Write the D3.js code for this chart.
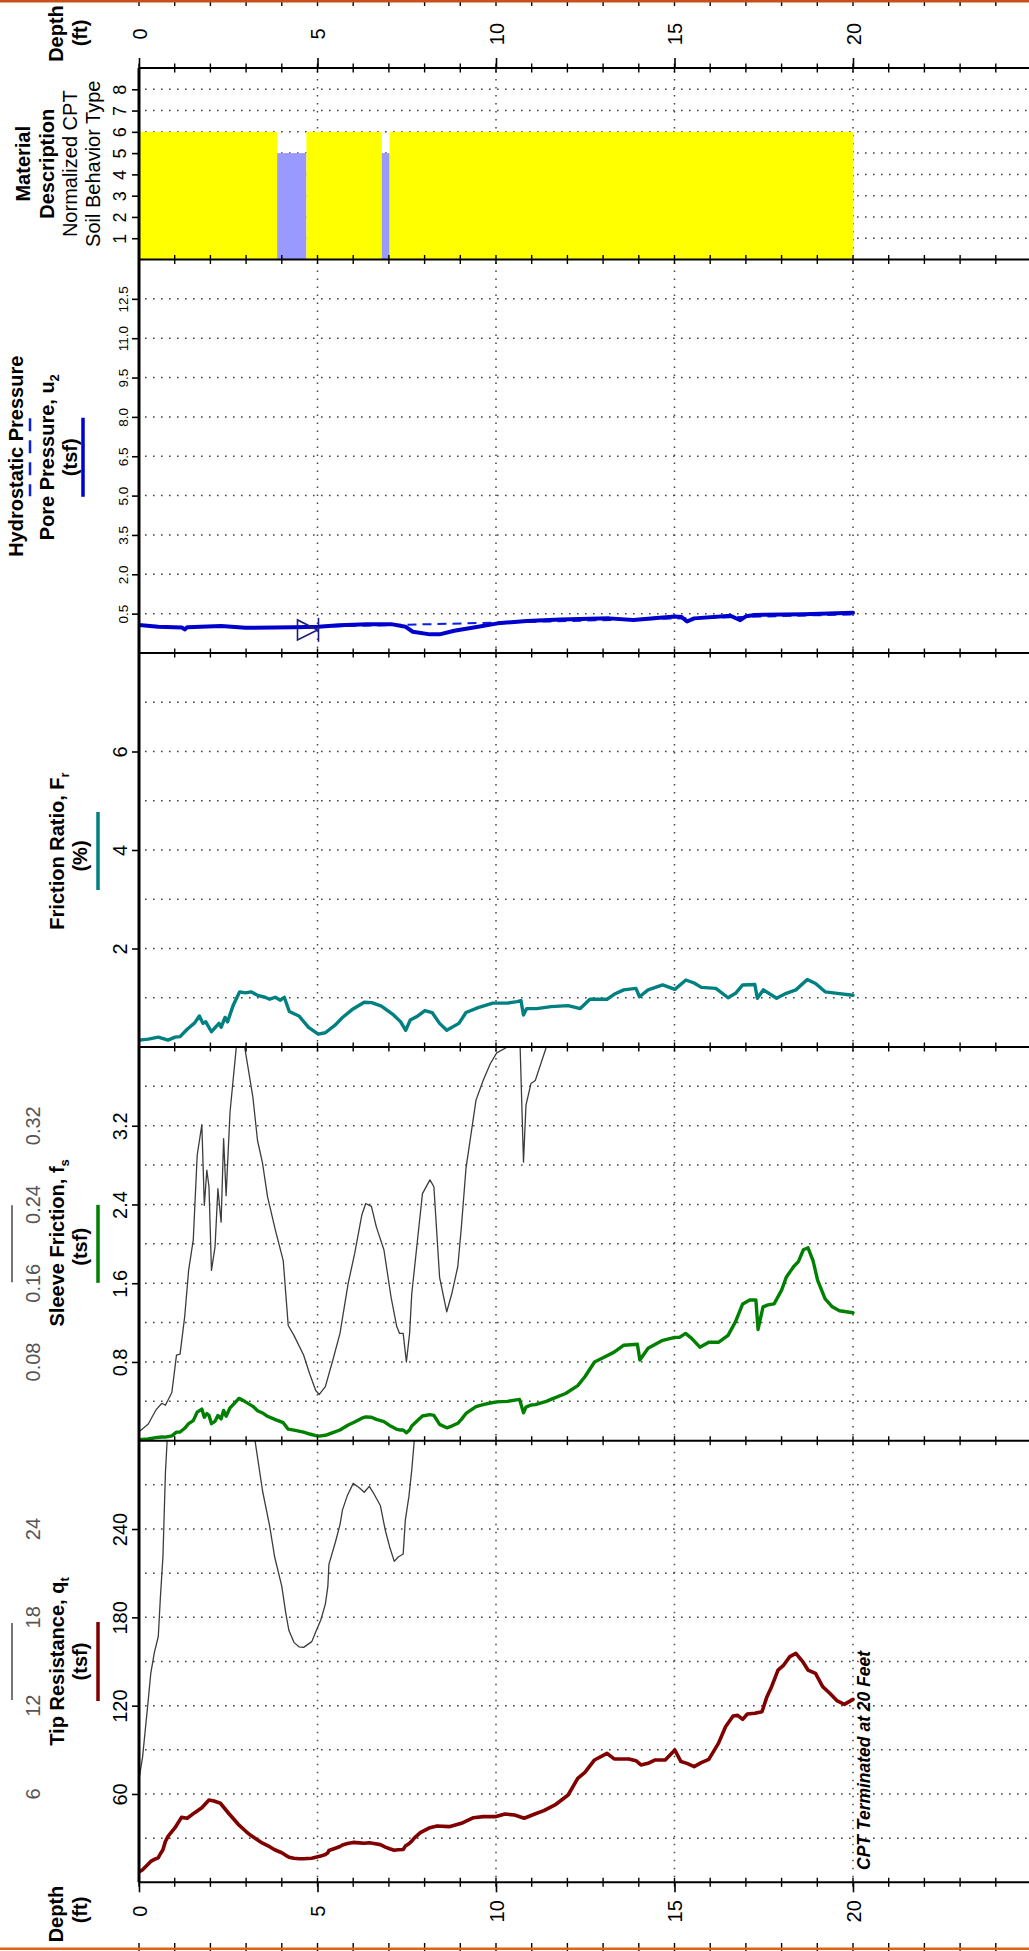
<!DOCTYPE html>
<html>
<head>
<meta charset="utf-8">
<script src="https://cdn.jsdelivr.net/npm/d3@7"></script>
<style>
  body { margin: 0; background: #fff; }
  svg { display: block; }
  text { font-family: Arial, "Liberation Sans", Helvetica, sans-serif; }
</style>
</head>
<body>
<div id="chart"></div>
<script>
// ---------------- CPT sounding data (depth in ft) ----------------
const depthLabels = [0, 5, 10, 15, 20];
const depthGrid = [5, 10, 15, 20, 25];

// Normalized soil behaviour type layers
const sbtLayers = [
  { from: 0.00, to: 3.87, zone: 6 },
  { from: 3.87, to: 4.69, zone: 5 },
  { from: 4.69, to: 6.80, zone: 6 },
  { from: 6.80, to: 7.02, zone: 5 },
  { from: 7.02, to: 20.0, zone: 6 }
];
const sbtColors = { 5: "#9999ff", 6: "#ffff00" };
const sbtTicks = [1, 2, 3, 4, 5, 6, 7, 8];

// Pore pressure u2 (tsf) and hydrostatic line
const porePressure = [
  [0, 0.07], [0.54, 0.0], [1.2, -0.03], [1.28, -0.1], [1.35, -0.02], [2.3, 0.03],
  [2.98, -0.04], [4.34, -0.02], [5.02, 0.0], [5.6, 0.06], [6.38, 0.1], [7.06, 0.1],
  [7.47, 0.0], [7.67, -0.19], [8.15, -0.29], [8.42, -0.29], [8.83, -0.15], [9.5, 0.0],
  [10.05, 0.13], [10.86, 0.22], [11.81, 0.28], [13.17, 0.32], [13.85, 0.26], [14.5, 0.33],
  [15.01, 0.39], [15.2, 0.37], [15.35, 0.2], [15.55, 0.32], [16.57, 0.42], [16.84, 0.25],
  [17.0, 0.4], [17.25, 0.45], [18.61, 0.48], [20.0, 0.53]
];
const hydrostatic = [[5.0, 0.0], [20.0, 0.47]];
const waterTableDepth = 5.0;
const poreTicks = [0.5, 2.0, 3.5, 5.0, 6.5, 8.0, 9.5, 11.0, 12.5];

// Friction ratio Fr (%)
const frictionRatio = [
  [0, 0.14], [0.26, 0.16], [0.54, 0.2], [0.81, 0.14], [1.01, 0.2], [1.15, 0.21],
  [1.35, 0.36], [1.56, 0.49], [1.69, 0.63], [1.79, 0.48], [1.87, 0.51], [2.03, 0.31],
  [2.24, 0.48], [2.3, 0.4], [2.41, 0.6], [2.48, 0.51], [2.64, 0.85], [2.82, 1.12],
  [2.98, 1.1], [3.14, 1.12], [3.32, 1.05], [3.53, 1.01], [3.66, 0.97], [3.82, 1.01],
  [3.96, 0.95], [4.07, 1.01], [4.21, 0.72], [4.48, 0.63], [4.75, 0.4], [5.02, 0.26],
  [5.22, 0.29], [5.5, 0.45], [5.7, 0.6], [5.97, 0.76], [6.31, 0.91], [6.52, 0.9],
  [6.79, 0.83], [7.13, 0.65], [7.33, 0.51], [7.47, 0.34], [7.6, 0.55], [7.81, 0.63],
  [8.01, 0.74], [8.21, 0.7], [8.42, 0.48], [8.62, 0.34], [8.96, 0.48], [9.16, 0.7],
  [9.5, 0.8], [9.91, 0.89], [10.32, 0.89], [10.59, 0.92], [10.7, 0.94], [10.77, 0.65],
  [10.86, 0.78], [11.14, 0.78], [11.54, 0.82], [12.02, 0.84], [12.36, 0.78], [12.63, 0.97],
  [13.11, 0.97], [13.31, 1.07], [13.58, 1.16], [13.92, 1.19], [14.02, 1.02], [14.26, 1.16],
  [14.67, 1.26], [15.01, 1.17], [15.32, 1.36], [15.55, 1.3], [15.75, 1.21], [16.16, 1.19],
  [16.5, 1.0], [16.71, 1.09], [16.91, 1.26], [17.25, 1.27], [17.32, 0.99], [17.49, 1.16],
  [17.86, 0.99], [18.13, 1.09], [18.4, 1.16], [18.72, 1.37], [18.95, 1.29], [19.22, 1.12],
  [19.56, 1.09], [20.0, 1.05]
];
const frTicks = [2, 4, 6];
const frGrid = [1, 2, 3, 4, 5, 6, 7];

// Sleeve friction fs (tsf)
const sleeveFriction = [
  [0, 0.009], [0.26, 0.017], [0.47, 0.031], [0.64, 0.038], [0.74, 0.036], [0.92, 0.049],
  [1.05, 0.087], [1.15, 0.088], [1.28, 0.126], [1.39, 0.173], [1.52, 0.204], [1.63, 0.29],
  [1.76, 0.321], [1.83, 0.239], [1.9, 0.275], [1.96, 0.258], [2.03, 0.173], [2.13, 0.197],
  [2.21, 0.256], [2.3, 0.222], [2.37, 0.307], [2.44, 0.249], [2.55, 0.334], [2.71, 0.394],
  [2.8, 0.43], [2.96, 0.40], [3.19, 0.349], [3.32, 0.305], [3.46, 0.282], [3.6, 0.248],
  [3.82, 0.214], [4.04, 0.183], [4.18, 0.117], [4.34, 0.107], [4.61, 0.087], [4.78, 0.068],
  [4.95, 0.051], [5.05, 0.047], [5.22, 0.055], [5.43, 0.082], [5.63, 0.109], [5.86, 0.16],
  [6.04, 0.19], [6.24, 0.229], [6.35, 0.241], [6.51, 0.238], [6.65, 0.217], [6.86, 0.194],
  [7.06, 0.146], [7.22, 0.116], [7.3, 0.109], [7.4, 0.109], [7.49, 0.08], [7.58, 0.109],
  [7.64, 0.149], [7.81, 0.207], [7.94, 0.251], [8.15, 0.265], [8.26, 0.258], [8.42, 0.166],
  [8.62, 0.131], [8.76, 0.149], [8.93, 0.177], [9.03, 0.217], [9.16, 0.277], [9.44, 0.346],
  [9.64, 0.366], [9.84, 0.383], [10.02, 0.394], [10.32, 0.40], [10.66, 0.42], [10.77, 0.283],
  [10.84, 0.341], [10.98, 0.363], [11.1, 0.366], [11.41, 0.40], [11.54, 0.42], [11.95, 0.48],
  [12.29, 0.56], [12.49, 0.65], [12.76, 0.80], [13.04, 0.85], [13.31, 0.90], [13.58, 0.97],
  [13.96, 0.98], [14.03, 0.82], [14.26, 0.94], [14.67, 1.02], [15.01, 1.05], [15.14, 1.05],
  [15.31, 1.09], [15.48, 1.04], [15.71, 0.95], [15.96, 1.0], [16.23, 1.0], [16.5, 1.07],
  [16.71, 1.21], [16.91, 1.39], [17.11, 1.43], [17.28, 1.43], [17.34, 1.13], [17.48, 1.36],
  [17.62, 1.38], [17.79, 1.39], [18.0, 1.53], [18.13, 1.66], [18.34, 1.77], [18.47, 1.82],
  [18.61, 1.94], [18.74, 1.96], [18.88, 1.83], [19.01, 1.63], [19.22, 1.44], [19.42, 1.36],
  [19.62, 1.32], [20.0, 1.30]
];
const fsTicks = [0.8, 1.6, 2.4, 3.2];
const fsGrid = [0.4, 0.8, 1.2, 1.6, 2.0, 2.4, 2.8, 3.2, 3.6];
const fsZoomTicks = [0.08, 0.16, 0.24, 0.32];

// Tip resistance qt (tsf)
const tipResistance = [
  [0, 7.0], [0.1, 8.5], [0.26, 12.4], [0.33, 14.2], [0.43, 15.6], [0.54, 16.7], [0.6, 19.4],
  [0.67, 22.1], [0.74, 27.8], [0.81, 31.0], [0.88, 33.3], [1.01, 37.1], [1.19, 44.1],
  [1.35, 43.5], [1.56, 47.3], [1.76, 50.7], [1.96, 55.9], [2.1, 55.2], [2.28, 53.7],
  [2.51, 46.9], [2.78, 39.4], [3.0, 34.5], [3.12, 32.1], [3.25, 30.0], [3.46, 26.6],
  [3.66, 24.2], [3.8, 22.1], [4.0, 20.1], [4.11, 18.3], [4.2, 17.1], [4.34, 16.3],
  [4.48, 16.0], [4.61, 15.96], [4.84, 16.35], [4.95, 17.0], [5.09, 17.8], [5.22, 18.9],
  [5.29, 20.1], [5.32, 21.6], [5.5, 23.1], [5.63, 24.3], [5.7, 25.3], [5.84, 26.3],
  [6.0, 27.1], [6.17, 26.8], [6.31, 26.5], [6.45, 26.9], [6.58, 26.4], [6.76, 25.6],
  [6.9, 23.9], [7.02, 22.8], [7.15, 21.8], [7.26, 22.1], [7.4, 22.3], [7.46, 24.6],
  [7.56, 26.2], [7.64, 28.0], [7.71, 30.0], [7.88, 33.7], [8.15, 37.1], [8.35, 38.3],
  [8.69, 37.8], [9.03, 40.1], [9.37, 43.9], [9.64, 44.6], [9.98, 44.6], [10.25, 46.4],
  [10.52, 45.7], [10.79, 43.5], [11.07, 46.2], [11.34, 48.7], [11.68, 53.0], [12.02, 59.3],
  [12.29, 70.6], [12.49, 74.7], [12.76, 83.1], [13.11, 87.6], [13.31, 83.8], [13.72, 83.8],
  [13.92, 82.6], [14.06, 79.7], [14.26, 80.8], [14.46, 83.1], [14.74, 83.1], [15.01, 89.9],
  [15.18, 82.0], [15.35, 80.8], [15.55, 78.6], [15.75, 81.3], [15.96, 83.5], [16.23, 94.4],
  [16.43, 105.7], [16.64, 113.0], [16.77, 113.4], [16.91, 110.7], [17.04, 114.3],
  [17.25, 114.8], [17.45, 115.9], [17.59, 126.1], [17.72, 132.9], [17.9, 144.2],
  [18.06, 147.6], [18.23, 153.3], [18.4, 155.5], [18.58, 150.3], [18.74, 144.2],
  [18.95, 141.9], [19.15, 132.9], [19.35, 128.4], [19.56, 123.2], [19.76, 120.9], [20.0, 124.3]
];
const qtTicks = [60, 120, 180, 240];
const qtGrid = [30, 60, 90, 120, 150, 180, 210, 240, 270];
const qtZoomTicks = [6, 12, 18, 24];

// ---------------- layout ----------------
const W = 1029, H = 1951;
const LEFT = 139;
const P = {
  sbt: { top: 68, bottom: 259.5 },
  u2:  { top: 259.5, bottom: 653 },
  fr:  { top: 653, bottom: 1047 },
  fs:  { top: 1047, bottom: 1440.7 },
  qt:  { top: 1440.7, bottom: 1882.3 }
};

const x = d3.scaleLinear().domain([0, 25]).range([LEFT, LEFT + 25 * 35.7]);
const ySbt = d3.scaleLinear().domain([0, 9]).range([P.sbt.bottom, P.sbt.top]);
const yU2 = d3.scaleLinear().domain([-1, 14]).range([P.u2.bottom, P.u2.top]);
const yFr = d3.scaleLinear().domain([0, 8]).range([P.fr.bottom, P.fr.top]);
const yFs = d3.scaleLinear().domain([0, 4]).range([P.fs.bottom, P.fs.top]);
const yFsZoom = d3.scaleLinear().domain([0, 0.4]).range([P.fs.bottom, P.fs.top]);
const yQt = d3.scaleLinear().domain([0, 300]).range([P.qt.bottom, P.qt.top]);
const yQtZoom = d3.scaleLinear().domain([0, 30]).range([P.qt.bottom, P.qt.top]);

const svg = d3.select("#chart").append("svg")
  .attr("width", W).attr("height", H)
  .attr("viewBox", `0 0 ${W} ${H}`);

const defs = svg.append("defs");
Object.entries(P).forEach(([k, p]) => {
  defs.append("clipPath").attr("id", "clip-" + k)
    .append("rect").attr("x", LEFT).attr("y", p.top)
    .attr("width", W - LEFT).attr("height", p.bottom - p.top);
});

// vertical text helper (reads bottom to top)
function vtext(parent, cx, cy, str, opt = {}) {
  const t = parent.append("text")
    .attr("transform", `translate(${cx},${cy}) rotate(-90)`)
    .attr("text-anchor", opt.anchor || "middle")
    .attr("dy", "0.35em")
    .attr("font-size", opt.size || 20)
    .attr("font-weight", opt.weight || "normal")
    .attr("font-style", opt.style || "normal")
    .attr("fill", opt.fill || "#000");
  if (opt.sub) {
    t.append("tspan").text(str);
    t.append("tspan").attr("dy", 5).attr("font-size", 13).text(opt.sub);
  } else {
    t.text(str);
  }
  return t;
}

// ---------------- grid ----------------
const grid = svg.append("g").attr("stroke", "#444").attr("stroke-width", 1.5)
  .attr("stroke-dasharray", "1.6,6.4").attr("fill", "none");

function hGrid(values, y) {
  grid.selectAll(null).data(values).join("line")
    .attr("x1", 145).attr("x2", W)
    .attr("y1", d => y(d)).attr("y2", d => y(d));
}
hGrid(sbtTicks, ySbt);
hGrid(poreTicks, yU2);
hGrid(frGrid, yFr);
hGrid(fsGrid, yFs);
hGrid(qtGrid, yQt);

Object.values(P).forEach(p => {
  grid.selectAll(null).data(depthGrid).join("line")
    .attr("x1", d => x(d)).attr("x2", d => x(d))
    .attr("y1", p.top + 3).attr("y2", p.bottom);
});

// ---------------- soil behaviour type ----------------
svg.append("g").selectAll("rect").data(sbtLayers).join("rect")
  .attr("x", d => x(d.from))
  .attr("width", d => x(d.to) - x(d.from))
  .attr("y", d => ySbt(d.zone))
  .attr("height", d => ySbt(0) - ySbt(d.zone))
  .attr("fill", d => sbtColors[d.zone]);

// ---------------- curves ----------------
function curve(data, y, color, width, clip, dash) {
  const line = d3.line().x(d => x(d[0])).y(d => y(d[1]));
  const path = svg.append("path").datum(data)
    .attr("d", line)
    .attr("fill", "none")
    .attr("stroke", color)
    .attr("stroke-width", width)
    .attr("stroke-linejoin", "round")
    .attr("stroke-linecap", "round");
  if (clip) path.attr("clip-path", `url(#clip-${clip})`);
  if (dash) path.attr("stroke-dasharray", dash).attr("stroke-linecap", "butt");
  return path;
}

// magnified traces (x10) in grey
curve(sleeveFriction, yFsZoom, "#3c3c3c", 1.3, "fs");
curve(tipResistance, yQtZoom, "#3c3c3c", 1.3, "qt");

curve(hydrostatic, yU2, "#0a1ee6", 2, "u2", "9,6");
curve(porePressure, yU2, "#0000cd", 4, "u2");
curve(frictionRatio, yFr, "#008080", 3.4, "fr");
curve(sleeveFriction, yFs, "#008000", 3.4, "fs");
curve(tipResistance, yQt, "#800000", 3.6, "qt");

// water table marker
const wt = svg.append("g").attr("stroke", "#1a1a80").attr("fill", "none").attr("stroke-width", 1.6);
const wx = x(waterTableDepth), wy = yU2(-0.12);
wt.append("path").attr("d", `M${wx},${wy} L${wx - 20},${wy - 10} L${wx - 20},${wy + 10} Z`);
wt.append("line").attr("x1", wx + 1).attr("x2", wx + 1).attr("y1", wy - 12).attr("y2", wy + 12);

// ---------------- frame, separators and depth ticks ----------------
const frame = svg.append("g").attr("stroke", "#000");
const seps = [P.sbt.top, P.sbt.bottom, P.u2.bottom, P.fr.bottom, P.fs.bottom, P.qt.bottom];
const feet = d3.range(0, 26);
seps.forEach(yy => {
  frame.append("line").attr("x1", LEFT).attr("x2", W).attr("y1", yy).attr("y2", yy).attr("stroke-width", 2);
  frame.selectAll(null).data(feet).join("line")
    .attr("x1", d => x(d)).attr("x2", d => x(d))
    .attr("y1", yy - 4.5).attr("y2", yy + 4.5).attr("stroke-width", 1.4);
});

// depth axes (top and bottom)
const topAxis = svg.append("g").attr("transform", `translate(0,${P.sbt.top})`)
  .call(d3.axisTop(x).tickValues(depthLabels).tickSize(10).tickFormat(d3.format("d")));
const botAxis = svg.append("g").attr("transform", `translate(0,${P.qt.bottom})`)
  .call(d3.axisBottom(x).tickValues(depthLabels).tickSize(10).tickFormat(d3.format("d")));
[topAxis, botAxis].forEach((ax, i) => {
  ax.select(".domain").remove();
  ax.selectAll(".tick line").attr("stroke", "#000").attr("stroke-width", 1.6);
  ax.selectAll(".tick text")
    .attr("x", null).attr("y", null).attr("dy", "0.35em")
    .attr("text-anchor", "middle")
    .attr("transform", `translate(0,${i === 0 ? -34 : 29}) rotate(-90)`)
    .attr("font-size", 20).attr("fill", "#000")
    .attr("font-family", "Arial, 'Liberation Sans', sans-serif");
});

// small ticks along the page edges
frame.selectAll(null).data(feet).join("line")
  .attr("x1", d => x(d)).attr("x2", d => x(d)).attr("y1", 2).attr("y2", 6).attr("stroke-width", 1.4);
frame.selectAll(null).data(feet).join("line")
  .attr("x1", d => x(d)).attr("x2", d => x(d)).attr("y1", H - 8).attr("y2", H).attr("stroke-width", 1.4);

// left border
frame.append("line").attr("x1", LEFT).attr("x2", LEFT)
  .attr("y1", P.sbt.top).attr("y2", P.qt.bottom).attr("stroke-width", 3);

// value axes
function valueAxis(y, ticks, fmt, size, offset) {
  const g = svg.append("g").attr("transform", `translate(${LEFT},0)`)
    .call(d3.axisLeft(y).tickValues(ticks).tickSize(7).tickFormat(fmt));
  g.select(".domain").remove();
  g.selectAll(".tick line").attr("stroke", "#000").attr("stroke-width", 1.6);
  g.selectAll(".tick text")
    .attr("x", null).attr("dy", "0.35em")
    .attr("text-anchor", "middle")
    .attr("transform", `translate(${-offset},0) rotate(-90)`)
    .attr("font-size", size).attr("fill", "#000")
    .attr("font-family", "Arial, 'Liberation Sans', sans-serif");
  return g;
}
valueAxis(ySbt, sbtTicks, d3.format("d"), 18, 19);
valueAxis(yU2, poreTicks, d3.format(".1f"), 13.5, 16);
valueAxis(yFr, frTicks, d3.format("d"), 20, 19);
valueAxis(yFs, fsTicks, d3.format(".1f"), 20, 19);
valueAxis(yQt, qtTicks, d3.format("d"), 20, 19);

// magnified-scale labels (grey)
const zoomLabels = svg.append("g");
zoomLabels.selectAll(null).data(fsZoomTicks).join("text")
  .attr("transform", d => `translate(33,${yFsZoom(d)}) rotate(-90)`)
  .attr("text-anchor", "middle").attr("dy", "0.35em")
  .attr("font-size", 20).attr("fill", "#555")
  .text(d3.format(".2f"));
zoomLabels.selectAll(null).data(qtZoomTicks).join("text")
  .attr("transform", d => `translate(33,${yQtZoom(d)}) rotate(-90)`)
  .attr("text-anchor", "middle").attr("dy", "0.35em")
  .attr("font-size", 20).attr("fill", "#555")
  .text(d3.format("d"));

// ---------------- titles and legend keys ----------------
const titles = svg.append("g");
const mid = p => (p.top + p.bottom) / 2;
function key(xx, cy, len, color, width, dash) {
  const l = titles.append("line")
    .attr("x1", xx).attr("x2", xx)
    .attr("y1", cy - len / 2).attr("y2", cy + len / 2)
    .attr("stroke", color).attr("stroke-width", width);
  if (dash) l.attr("stroke-dasharray", dash);
}

vtext(titles, 56, 33.5, "Depth", { weight: "bold" });
vtext(titles, 80, 33, "(ft)", { weight: "bold" });
vtext(titles, 56, 1914, "Depth", { weight: "bold" });
vtext(titles, 80, 1910, "(ft)", { weight: "bold" });

vtext(titles, 23, mid(P.sbt), "Material", { weight: "bold" });
vtext(titles, 47, mid(P.sbt), "Description", { weight: "bold" });
vtext(titles, 70, mid(P.sbt), "Normalized CPT");
vtext(titles, 93, mid(P.sbt), "Soil Behavior Type");

vtext(titles, 16, mid(P.u2), "Hydrostatic Pressure", { weight: "bold" });
key(30, mid(P.u2) + 1, 78, "#0a1ee6", 2.5, "13,9");
vtext(titles, 47, mid(P.u2) + 1, "Pore Pressure, u", { weight: "bold", sub: "2" });
vtext(titles, 70, mid(P.u2) + 1, "(tsf)", { weight: "bold" });
key(83, mid(P.u2) + 1, 79, "#0000cd", 3.5);

vtext(titles, 57, mid(P.fr) + 1, "Friction Ratio, F", { weight: "bold", sub: "r" });
vtext(titles, 80, mid(P.fr) + 6, "(%)", { weight: "bold" });
key(98, mid(P.fr) + 1, 78, "#008080", 3.5);

key(12, mid(P.fs) + 0, 77, "#3c3c3c", 1.4);
vtext(titles, 57, mid(P.fs) - 1, "Sleeve Friction, f", { weight: "bold", sub: "s" });
vtext(titles, 80, mid(P.fs) + 3, "(tsf)", { weight: "bold" });
key(98, mid(P.fs), 78, "#008000", 3.5);

key(12, mid(P.qt), 77, "#3c3c3c", 1.4);
vtext(titles, 57, mid(P.qt), "Tip Resistance, q", { weight: "bold", sub: "t" });
vtext(titles, 80, mid(P.qt), "(tsf)", { weight: "bold" });
key(98, mid(P.qt), 79, "#800000", 3.5);

vtext(titles, 864, 1870, "CPT Terminated at 20 Feet",
  { weight: "bold", style: "italic", size: 17.5, anchor: "start" });

// page edge rules
svg.append("rect").attr("x", 0).attr("y", 0).attr("width", W).attr("height", 2.5).attr("fill", "#c8501a");
svg.append("rect").attr("x", 0).attr("y", H - 3.5).attr("width", W).attr("height", 2.5).attr("fill", "#e0601c");
</script>
</body>
</html>
